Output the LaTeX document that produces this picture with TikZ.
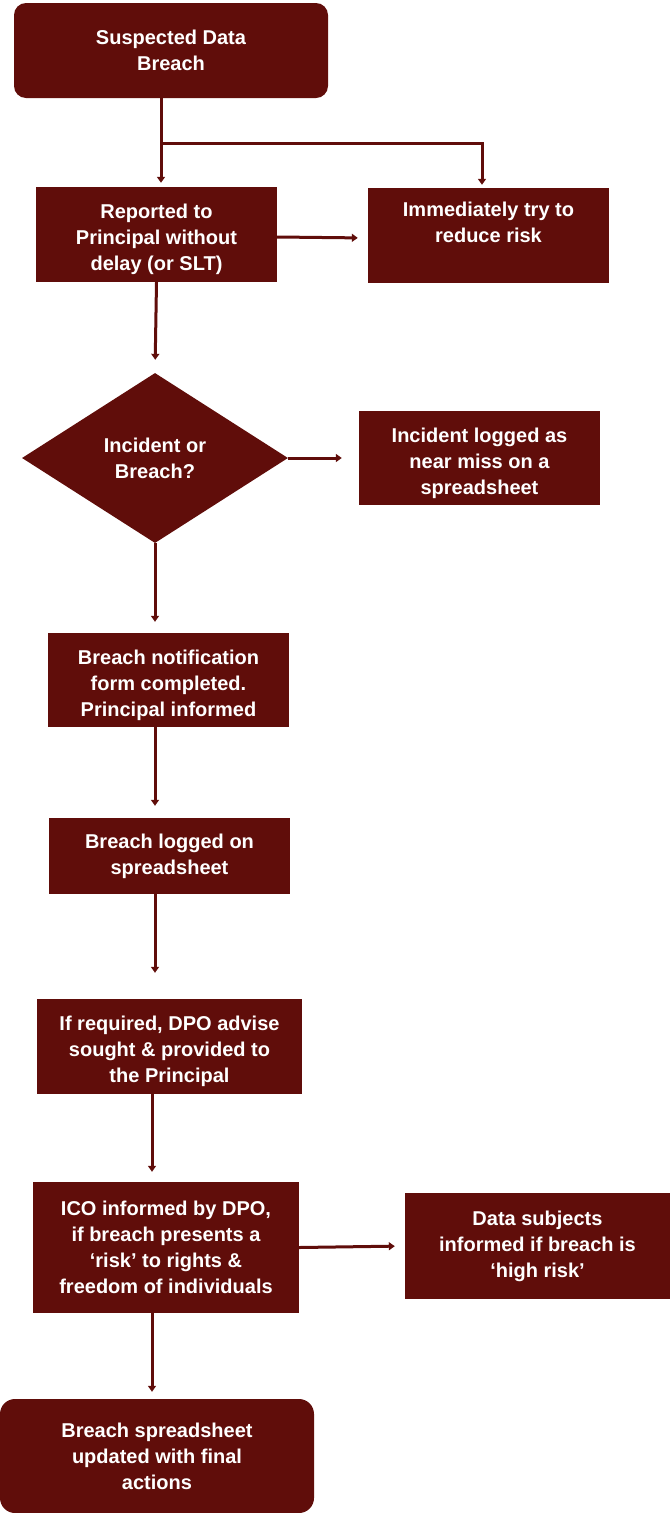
\documentclass[tikz,border=0pt]{standalone}
\usepackage{fontspec}
\setmainfont{Liberation Sans}
\usetikzlibrary{shapes.geometric,arrows.meta}
\definecolor{maroon}{RGB}{96,13,10}
\newcommand{\sink}{\rule{0pt}{25pt}}
\begin{document}
\begin{tikzpicture}[x=1pt,y=-1pt,font=\fontsize{20}{26}\selectfont\bfseries]

      \useasboundingbox (0,0) rectangle (670,1513);

      \begin{scope}[every node/.style={fill=maroon,text=white,align=center,inner sep=0pt}]
        \node[rounded corners=12pt,minimum width=314pt,minimum height=95pt] (start) at (171,50.5) {Suspected Data\\Breach};
        \node[minimum width=241pt,minimum height=95pt] (rep)   at (156.5,234.5) {\sink Reported to\\Principal without\\delay (or SLT)};
        \node[minimum width=241pt,minimum height=95pt] (imm)   at (488.5,235.5) {Immediately try to\\reduce risk\\~};
        \node[diamond,aspect=1.56,minimum width=266pt,minimum height=170pt] (dia) at (155,458) {Incident or\\Breach?};
        \node[minimum width=241pt,minimum height=94pt] (inc)   at (479.5,458)   {\sink Incident logged as\\near miss on a\\spreadsheet};
        \node[minimum width=241pt,minimum height=94pt] (notif) at (168.5,680)   {\sink Breach notification\\form completed.\\Principal informed};
        \node[minimum width=241pt,minimum height=76pt] (logged) at (169.5,856)  {Breach logged on\\spreadsheet};
        \node[minimum width=265pt,minimum height=95pt] (req)   at (169.5,1046.5) {\sink If required, DPO advise\\sought \& provided to\\the Principal};
        \node[minimum width=266pt,minimum height=131pt] (ico)  at (166,1247.5)  {ICO informed by DPO,\\if breach presents a\\‘risk’ to rights \&\\freedom of individuals};
        \node[minimum width=265pt,minimum height=106pt] (subj) at (537.5,1246)  {Data subjects\\informed if breach is\\‘high risk’};
        \node[rounded corners=15pt,minimum width=314pt,minimum height=114pt] (end) at (157,1456) {Breach spreadsheet\\updated with final\\actions};
      \end{scope}

      \coordinate (split) at (161,143);
      \coordinate (lane)  at (152,1300);

      \begin{scope}[every edge/.style={draw=maroon,line width=3pt,-{Triangle[length=6pt,width=8pt]}}]
        \path (start.south -| split) edge[shorten >=4pt] (split |- rep.north);
        \path (split) edge[to path={-| (\tikztotarget)},shorten >=3pt] ([xshift=-6.5pt]imm.north);
        \path ([yshift=-2.5pt]rep.east) edge[shorten >=10pt] ([yshift=-2.5pt]imm.west);
        \path (rep.south) edge[shorten >=13pt] (dia.north);
        \path (dia.east)  edge[shorten >=17pt] (inc.west);
        \path (dia.south) edge[shorten >=11pt] (dia.south |- notif.north);
        \path (notif.south -| dia.south)  edge[shorten >=12pt] (dia.south |- logged.north);
        \path (logged.south -| dia.south) edge[shorten >=26pt] (dia.south |- req.north);
        \path (req.south -| lane) edge[shorten >=10pt] (lane |- ico.north);
        \path (ico.east) edge[shorten >=10pt] (subj.west);
        \path (ico.south -| lane) edge[shorten >=7pt] (lane |- end.north);
      \end{scope}

    \end{tikzpicture}
\end{document}
